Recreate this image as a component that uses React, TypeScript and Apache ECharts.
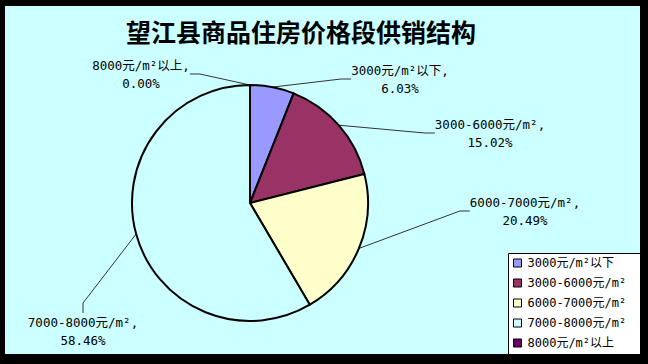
import React, { useEffect, useRef } from 'react';
import * as echarts from 'echarts';

const chartTitle = '望江县商品住房价格段供销结构';
const categories = ['3000元/m²以下', '3000-6000元/m²', '6000-7000元/m²', '7000-8000元/m²', '8000元/m²以上'];
const shares = [6.03, 15.02, 20.49, 58.46, 0.0];
const colors = ['#9999FF', '#993366', '#FFFFCC', '#CCFFFF', '#660066'];
// label placement (layout only)
const labelSpots = [[400, 79], [490, 133], [525, 211], [83, 331], [141, 74]];

const monoFont = '"DejaVu Sans Mono", "Noto Sans CJK SC", monospace';

export default function App() {
  const ref = useRef<HTMLDivElement>(null);
  useEffect(() => {
    if (!ref.current) return;
    const chart = echarts.init(ref.current, null, { renderer: 'svg' });
    chart.setOption({
      animation: false,
      backgroundColor: '#000000',
      color: colors,
      title: {
        text: chartTitle,
        left: 126,
        top: 18,
        padding: 0,
        textStyle: {
          fontFamily: '"Noto Sans CJK SC", sans-serif',
          fontSize: 25,
          fontWeight: 'bold',
          color: '#000000',
        },
      },
      graphic: [
        {
          type: 'rect',
          z: -10,
          shape: { x: 5, y: 6, width: 635, height: 348 },
          style: { fill: '#CCFFFF' },
          silent: true,
        },
        {
          type: 'rect',
          z: 1,
          shape: { x: 508.5, y: 253.5, width: 132, height: 101 },
          style: { fill: '#FFFFFF', stroke: '#000000', lineWidth: 1 },
          silent: true,
        },
      ],
      legend: {
        orient: 'vertical',
        left: 508,
        top: 253,
        z: 5,
        padding: [4, 6, 6, 5],
        itemWidth: 8,
        itemHeight: 8,
        itemGap: 8,
        icon: 'rect',
        itemStyle: { borderColor: '#000000', borderWidth: 1 },
        textStyle: { fontFamily: monoFont, fontSize: 12, lineHeight: 12, color: '#000000', padding: [0, 0, 0, 1] },
        data: categories,
      },
      series: [
        {
          type: 'pie',
          center: [250, 203],
          radius: 118,
          startAngle: 90,
          clockwise: true,
          avoidLabelOverlap: false,
          itemStyle: { borderColor: '#000000', borderWidth: 2 },
          label: {
            show: true,
            position: 'outside',
            fontFamily: monoFont,
            fontSize: 12.5,
            lineHeight: 18,
            color: '#000000',
            align: 'center',
            formatter: (p: any) => `${p.name},\n${Number(p.value).toFixed(2)}%`,
          },
          labelLine: {
            show: true,
            length: 10,
            length2: 10,
            lineStyle: { color: '#333333', width: 1 },
          },
          labelLayout: (p: any) => {
            const s = labelSpots[p.dataIndex];
            return { x: s[0], y: s[1], align: 'center', verticalAlign: 'middle' };
          },
          emphasis: { disabled: true },
          data: categories.map((name, i) => ({ name, value: shares[i] })),
        },
      ],
    });
    return () => chart.dispose();
  }, []);
  return (
    <div
      ref={ref}
      style={{ position: 'absolute', left: 0, top: 0, width: 648, height: 364 }}
    />
  );
}
